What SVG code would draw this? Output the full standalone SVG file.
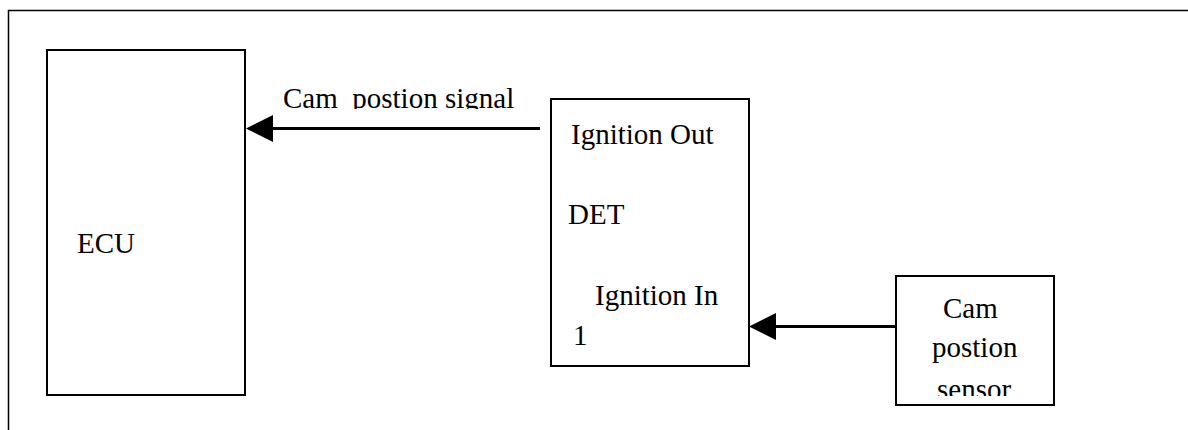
<svg xmlns="http://www.w3.org/2000/svg" width="1188" height="430" viewBox="0 0 1188 430">
<style>
.box{fill:#fff;stroke:#000;stroke-width:2}
.frame{fill:none;stroke:#000;stroke-width:1.5}
.lbl{font-family:'Liberation Serif','Times New Roman',Tinos,'DejaVu Serif',serif;font-size:29px;fill:#000}
.conn{stroke:#000;stroke-width:3;fill:none}
.head{fill:#000}
</style>
<defs>
<clipPath id="clipSig"><rect x="270" y="80" width="280" height="29"/></clipPath>
<clipPath id="clipSensor"><rect x="897" y="277" width="156" height="119"/></clipPath>
</defs>
<rect width="1188" height="430" fill="#fff"/>
<path class="frame" d="M8.5 430 V10.5 H1188"/>
<g id="ecu">
<rect class="box" x="47" y="50" width="198" height="345"/>
<text class="lbl" x="77" y="253">ECU</text>
</g>
<g id="det">
<rect class="box" x="551" y="99" width="198" height="267"/>
<text class="lbl" x="571" y="144">Ignition Out</text>
<text class="lbl" x="568" y="224">DET</text>
<text class="lbl" x="595" y="305">Ignition In</text>
<text class="lbl" x="573" y="345">1</text>
</g>
<g id="sensor">
<rect class="box" x="896" y="276" width="158" height="129"/>
<g clip-path="url(#clipSensor)">
<text class="lbl" x="943" y="318">Cam</text>
<text class="lbl" x="932" y="357">postion</text>
<text class="lbl" x="937" y="399">sensor</text>
</g>
</g>
<g id="connectors">
<line class="conn" x1="540" y1="128.5" x2="270" y2="128.5"/>
<polygon class="head" points="246,128.5 273,115 273,142"/>
<text class="lbl" x="283" y="108" clip-path="url(#clipSig)" xml:space="preserve">Cam  postion signal</text>
<line class="conn" x1="896" y1="326.5" x2="772" y2="326.5"/>
<polygon class="head" points="749,326.5 776,313 776,340"/>
</g>
</svg>
